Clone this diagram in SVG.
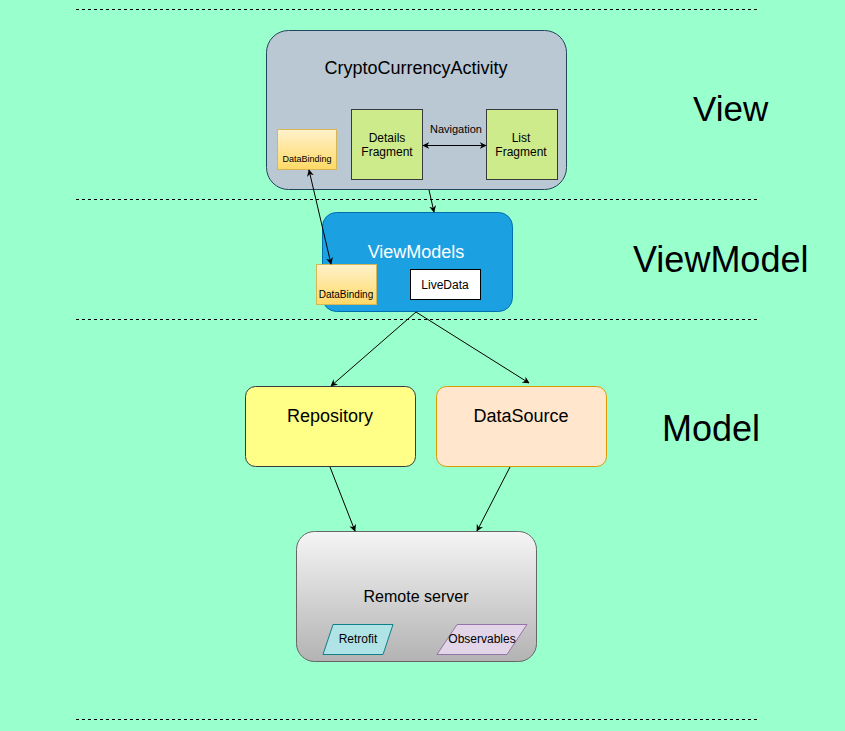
<svg xmlns="http://www.w3.org/2000/svg" width="845" height="731" viewBox="0 0 845 731">
<defs>
<linearGradient id="gY" x1="0" y1="0" x2="0" y2="1"><stop offset="0" stop-color="#fff2cc"/><stop offset="1" stop-color="#ffd966"/></linearGradient>
<linearGradient id="gG" x1="0" y1="0" x2="0" y2="1"><stop offset="0" stop-color="#f5f5f5"/><stop offset="1" stop-color="#b3b3b3"/></linearGradient>
<marker id="ah" viewBox="0 0 10 10" refX="9" refY="5" markerWidth="7" markerHeight="7" orient="auto-start-reverse" markerUnits="userSpaceOnUse"><path d="M0,0 L10,5 L0,10 L3,5 z" fill="#000"/></marker>
<style>
text{font-family:"Liberation Sans",Arial,sans-serif;text-anchor:middle;fill:#000}
.dash{stroke:#000;stroke-width:1;stroke-dasharray:3,3;fill:none}
.con{stroke:#000;stroke-width:1;fill:none}
.big{font-size:36px;text-anchor:start}
</style>
</defs>
<rect width="845" height="731" fill="#99ffcc"/>
<g id="separators">
<line class="dash" x1="76" y1="9.5" x2="757" y2="9.5"/>
<line class="dash" x1="76" y1="199.5" x2="757" y2="199.5"/>
<line class="dash" x1="76" y1="319.5" x2="757" y2="319.5"/>
<line class="dash" x1="76" y1="719.5" x2="757" y2="719.5"/>
</g>
<g id="layer-labels">
<text class="big" x="693" y="121" style="font-size:35px">View</text>
<text class="big" x="633" y="272">ViewModel</text>
<text class="big" x="662" y="441">Model</text>
</g>
<g id="activity">
<rect x="266.5" y="30.5" width="300" height="159" rx="22" fill="#bac8d3" stroke="#23445d"/>
<text x="416" y="74" font-size="18">CryptoCurrencyActivity</text>
</g>
<g id="databinding-view">
<rect x="277.5" y="129.5" width="59" height="40" fill="url(#gY)" stroke="#d6b656"/>
<text x="307" y="162" font-size="9">DataBinding</text>
</g>
<g id="details-fragment">
<rect x="351.5" y="109.5" width="71" height="70" fill="#cdeb8b" stroke="#36393d"/>
<text x="387" y="142" font-size="12">Details</text>
<text x="387" y="156" font-size="12">Fragment</text>
</g>
<g id="list-fragment">
<rect x="486.5" y="109.5" width="71" height="70" fill="#cdeb8b" stroke="#36393d"/>
<text x="521" y="142" font-size="12">List</text>
<text x="521" y="156" font-size="12">Fragment</text>
</g>
<g id="viewmodels">
<rect x="322.5" y="212.5" width="190" height="99" rx="14" fill="#1ba1e2" stroke="#006eaf"/>
<text x="416" y="258" font-size="18" style="fill:#ffffff">ViewModels</text>
</g>
<g id="databinding-vm">
<rect x="316.5" y="264.5" width="60" height="40" fill="url(#gY)" stroke="#d6b656"/>
<text x="346" y="298" font-size="10">DataBinding</text>
</g>
<g id="livedata">
<rect x="410.5" y="269.5" width="70" height="30" fill="#ffffff" stroke="#000"/>
<text x="445" y="289" font-size="12">LiveData</text>
</g>
<g id="repository">
<rect x="245.5" y="386.5" width="170" height="80" rx="10" fill="#ffff88" stroke="#36393d"/>
<text x="330" y="422" font-size="18">Repository</text>
</g>
<g id="datasource">
<rect x="436.5" y="386.5" width="170" height="80" rx="10" fill="#ffe6cc" stroke="#d79b00"/>
<text x="521" y="422" font-size="18">DataSource</text>
</g>
<g id="remote-server">
<rect x="296.5" y="531.5" width="240" height="130" rx="18" fill="url(#gG)" stroke="#666666"/>
<text x="416" y="602" font-size="16">Remote server</text>
</g>
<g id="retrofit">
<polygon points="333,624.5 393,624.5 383,654.5 323,654.5" fill="#b0e3e6" stroke="#0e8088"/>
<text x="358" y="643" font-size="12">Retrofit</text>
</g>
<g id="observables">
<polygon points="457,624.5 527,624.5 507,654.5 437,654.5" fill="#e1d5e7" stroke="#9673a6"/>
<text x="482" y="643" font-size="12">Observables</text>
</g>
<g id="connectors">
<line class="con" x1="423" y1="145.5" x2="486" y2="145.5" marker-start="url(#ah)" marker-end="url(#ah)"/>
<text x="456" y="133" font-size="11">Navigation</text>
<line class="con" x1="309" y1="170" x2="331" y2="264" marker-start="url(#ah)" marker-end="url(#ah)"/>
<line class="con" x1="429" y1="190" x2="434" y2="212" marker-end="url(#ah)"/>
<line class="con" x1="416" y1="312" x2="331" y2="386" marker-end="url(#ah)"/>
<line class="con" x1="416" y1="312" x2="529" y2="383" marker-end="url(#ah)"/>
<line class="con" x1="330" y1="467" x2="355" y2="531" marker-end="url(#ah)"/>
<line class="con" x1="510" y1="467" x2="477" y2="531" marker-end="url(#ah)"/>
</g>
</svg>
